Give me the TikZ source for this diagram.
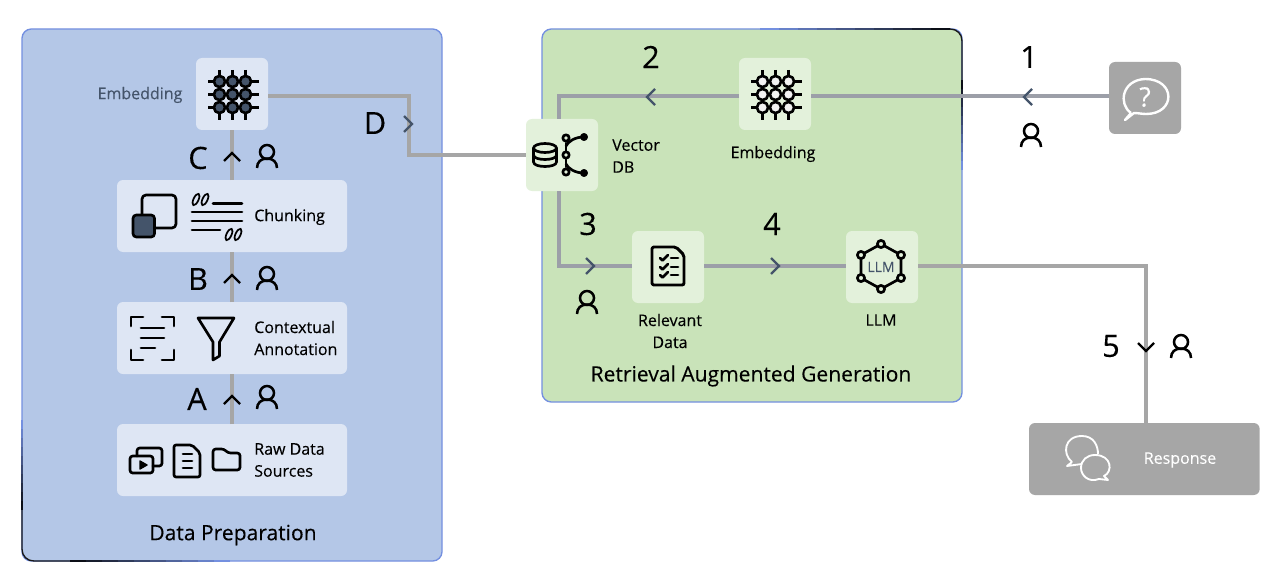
\documentclass[tikz,border=0pt]{standalone}
\usepackage{fontspec}
\setmainfont[FakeBold=0.25]{Open Sans}
\usetikzlibrary{calc}
\definecolor{bluepanel}{HTML}{B4C7E7}
\definecolor{blueedge}{HTML}{7490E0}
\definecolor{bluetile}{HTML}{DEE6F4}
\definecolor{greenpanel}{HTML}{C9E3B9}
\definecolor{greentile}{HTML}{E3F1DB}
\definecolor{slate}{HTML}{44546A}
\definecolor{wire}{HTML}{A6A6A6}
\definecolor{wiregreen}{HTML}{9C9FA8}
\definecolor{icongray}{HTML}{A6A6A6}
\tikzset{
  x=0.75pt,y=-0.75pt,
  panel/.style={anchor=north west,inner sep=0pt,outer sep=0pt,rounded corners=7pt},
  tile/.style={anchor=north west,inner sep=0pt,outer sep=0pt,rounded corners=4.5pt,draw=none},
  wireline/.style={draw=wire,line width=2.4pt},
  wiregr/.style={draw=wiregreen,line width=2.4pt},
  chev/.style={line width=1.8pt,line cap=butt,line join=miter},
  ico/.style={line width=2pt,line join=round,line cap=round,draw=black},
  lab/.style={font=\fontsize{12}{16.5}\selectfont,inner sep=0pt,align=left},
  biglab/.style={font=\fontsize{23}{26}\selectfont,inner sep=0pt},
  titlelab/.style={font=\fontsize{15.8}{18}\selectfont,inner sep=0pt},
  pics/person/.style={code={
    \draw[line width=1.9pt,line cap=butt] (0,-5) circle (7);
    \draw[line width=1.9pt,line cap=butt] (-10,11) .. controls (-10,5) and (-6,1.5) .. (0,1.5) .. controls (6,1.5) and (10,5) .. (10,11);
  }},
  pics/grid/.style={code={
    \foreach \u in {-13,0,13}{
      \draw[ico,line cap=butt] (-24.5,\u) -- (26,\u);
      \draw[ico,line cap=butt] (\u,-24.5) -- (\u,26);
    }
    \foreach \u in {-13,0,13}\foreach \v in {-13,0,13}
      \draw[ico,fill=#1] (\u,\v) circle (5.6);
  }},
  pics/chup/.style={code={\draw[chev,#1] (-8,4) -- (0,-4) -- (8,4);}},
  pics/chdown/.style={code={\draw[chev,#1] (-8,-4) -- (0,4) -- (8,-4);}},
  pics/chleft/.style={code={\draw[chev,#1] (4,-8) -- (-4,0) -- (4,8);}},
  pics/chright/.style={code={\draw[chev,#1] (-4,-8) -- (4,0) -- (-4,8);}},
}
\newcommand{\qmarks}[2]{%
  \foreach \d in {0,9}{
    \draw[line width=1.3pt,rotate around={-25:(#1+\d,#2)}] (#1+\d,#2) ellipse (2.5 and 6.2);
  }}
\begin{document}
\begin{tikzpicture}
\useasboundingbox (0,0) rectangle (1280,581);
\fill[white] (0,0) rectangle (1280,581);

% panels
\node[panel,fill=bluepanel,draw=blueedge,line width=1pt,minimum width=315pt,minimum height=399pt] (prep) at (22,29) {};
\node[panel,fill=greenpanel,draw=blueedge,line width=1pt,minimum width=315pt,minimum height=279.75pt] (rag) at (542,29) {};
% darkening of the panel outlines, fading into the blue
\foreach \i in {0,...,9}{
  \pgfmathsetmacro{\mixv}{100-10*\i}
  \draw[line width=1pt,blueedge!\mixv!black] ({760+19*\i},29) -- ({779+19*\i},29);
  \draw[line width=1pt,blueedge!\mixv!black] (962,{170-9*\i}) -- (962,{161-9*\i});
  \draw[line width=1pt,blueedge!\mixv!black] ({230-16*\i},561) -- ({214-16*\i},561);
  \draw[line width=1pt,blueedge!\mixv!black] (22,{420+9*\i}) -- (22,{429+9*\i});
}
\draw[line width=1pt,black!90] (950,29) .. controls (957,29) and (962,34) .. (962,41) -- (962,80);
\draw[line width=1pt,black!90] (70,561) -- (34,561) .. controls (27,561) and (22,556) .. (22,549) -- (22,510);

% tiles
\node[tile,fill=bluetile,minimum width=54pt,minimum height=54pt] (embA) at (196,58) {};
\node[tile,fill=bluetile,minimum width=172.5pt,minimum height=54pt] (chunk) at (117,180) {};
\node[tile,fill=bluetile,minimum width=172.5pt,minimum height=54pt] (ctx) at (117,302) {};
\node[tile,fill=bluetile,minimum width=172.5pt,minimum height=54pt] (raw) at (117,424) {};
\node[tile,fill=greentile,minimum width=54pt,minimum height=54pt] (vdb) at (526,119) {};
\node[tile,fill=greentile,minimum width=54pt,minimum height=54pt] (embB) at (739,58) {};
\node[tile,fill=greentile,minimum width=54pt,minimum height=54pt] (rel) at (632,231) {};
\node[tile,fill=greentile,minimum width=54pt,minimum height=54pt] (llm) at (846,231) {};
\node[tile,fill=icongray,minimum width=54pt,minimum height=54pt] (ask) at (1109,62) {};
\node[tile,fill=icongray,minimum width=173pt,minimum height=54pt] (resp) at (1029,423) {};

% connectors
\draw[wireline] (raw.north -| 232,0) -- (ctx.south -| 232,0);
\draw[wireline] (ctx.north -| 232,0) -- (chunk.south -| 232,0);
\draw[wireline] (chunk.north -| 232,0) -- (embA.south -| 232,0);
\coordinate (dtop) at (409,96);
\coordinate (dbot) at (409,155);
\draw[wireline,line join=miter] (embA.east |- dtop) -- (dtop) -- (dbot) -- (vdb.west |- dbot);
\draw[wiregr] (ask.west |- 0,96) -- (embB.east |- 0,96);
\coordinate (twotop) at (559,96);
\draw[wiregr] (embB.west |- twotop) -- (twotop) -- (twotop |- vdb.north);
\coordinate (threebot) at (559,266);
\draw[wiregr] (threebot |- vdb.south) -- (threebot) -- (rel.west |- threebot);
\draw[wiregr] (rel.east |- 0,266) -- (llm.west |- 0,266);
\coordinate (fivetop) at (1146,266);
\draw[wireline] (llm.east |- fivetop) -- (fivetop) -- (fivetop |- resp.north);

% chevrons
\pic at (232,157) {chup={black}};
\pic at (232,279) {chup={black}};
\pic at (232,400) {chup={black}};
\pic at (408,124) {chright={slate}};
\pic at (651,97) {chleft={slate}};
\pic at (1028,97) {chleft={slate}};
\pic at (590,266) {chright={slate}};
\pic at (775,266) {chright={slate}};
\pic at (1146,347) {chdown={black}};

% persons
\pic at (267,157) {person};
\pic at (267,279) {person};
\pic at (267,398) {person};
\pic at (1031,136) {person};
\pic at (587,303) {person};
\pic at (1181,347) {person};

% step letters
\node[biglab] (lD) at (375,123) {D};
\node[biglab] (lC) at (198,158) {C};
\node[biglab] (lB) at (198,279) {B};
\node[biglab] (lA) at (197,399) {A};
\node[biglab] (l2) at (651,57) {2};
\node[biglab] (l1) at (1029,57) {1};
\node[biglab] (l3) at (588,224) {3};
\node[biglab] (l4) at (772,224) {4};
\node[biglab] (l5) at (1111,346) {5};

% labels
\node[lab,text=slate] (tE1) at (140,95) {Embedding};
\node[lab,anchor=west] (tChunk) at (254,217) {Chunking};
\node[lab,anchor=west] (tCtx) at (254,338) {Contextual\\Annotation};
\node[lab,anchor=west] (tRaw) at (254,460) {Raw Data\\Sources};
\node[titlelab] (tPrep) at (233,535) {Data Preparation};
\node[lab,anchor=west] (tV) at (612,156) {Vector\\DB};
\node[lab] (tE2) at (773,154) {Embedding};
\node[lab,align=center] (tR) at (670,331) {Relevant\\Data};
\node[lab] (tL) at (881,320) {LLM};
\node[titlelab] (tRag) at (751,376) {Retrieval Augmented Generation};
\node[lab,text=white] (tResp) at (1180,460) {Response};

% grid icons
\pic at (232.5,94.5) {grid={slate}};
\pic at (775.5,94.5) {grid={white!95!black}};

% chunking icon
\draw[ico,rounded corners=3pt] (142,215) -- (142,195) -- (176,195) -- (176,228) -- (154,228);
\draw[ico,fill=slate,rounded corners=2.5pt] (133,215) rectangle (154.5,237);
\draw[ico] (213,203.5) -- (242,203.5);
\draw[ico] (192,212) -- (242,212);
\draw[ico] (192,221) -- (242,221);
\draw[ico] (192,230) -- (220,230);
\qmarks{196}{199.5}
\qmarks{229}{234.5}

% contextual icon
\begin{scope}[ico]
\draw (131,326) -- (131,317) -- (143,317);
\draw (162,317) -- (174,317) -- (174,326);
\draw (131,350) -- (131,360) -- (143,360);
\draw (162,360) -- (174,360) -- (174,350);
\draw (141,328) -- (164,328);
\draw (141,338) -- (164,338);
\draw (141,348) -- (155,348);
\draw (198,318) -- (234,318) -- (219.5,342) -- (219.5,356) -- (213,360) -- (213,342) -- cycle;
% raw data icons
\draw[rounded corners=2pt] (130,456) rectangle (153,473);
\draw[rounded corners=2pt] (137,456) -- (137,448) -- (162,448) -- (162,466) -- (153,466);
\draw[fill=black,line width=1pt] (140,461) -- (147,465) -- (140,469) -- cycle;
\draw[rounded corners=1.5pt] (174,445) -- (192,445) -- (200,453) -- (200,477) -- (174,477) -- cycle;
\draw (183,454) -- (192,454);
\draw (183,461) -- (192,461);
\draw (183,468) -- (192,468);
\draw[rounded corners=2pt] (213,470) -- (213,449) -- (224,449) -- (228,453) -- (240,453) -- (240,470) -- cycle;
% vector db
\draw (545,148) ellipse (11.5 and 4.5);
\draw (533.5,148) -- (533.5,162) .. controls (533.5,168) and (556.5,168) .. (556.5,162) -- (556.5,148);
\draw (533.5,155) .. controls (533.5,161) and (556.5,161) .. (556.5,155);
\draw (566,143) -- (566,167);
\draw (566,146) .. controls (568,142) and (574,137) .. (584,137);
\draw (566,164) .. controls (568,168) and (574,173) .. (584,173);
\foreach \p in {(566,138),(566,155),(566,172)} \draw[fill=greentile] \p circle (3.2);
\foreach \p in {(584,137),(584,173)} \draw[fill=black] \p circle (2.6);
% relevant doc
\draw[rounded corners=1.5pt,line width=2.2pt] (652,247) -- (676,247) -- (684,255) -- (684,285) -- (652,285) -- cycle;
\foreach \y in {258,267,275}{
  \draw (660,\y) -- (662.5,\y+2.5) -- (668,\y-3);
  \draw (671,\y) -- (678,\y);
}
% llm
\draw (881,244) -- (901,255) -- (901,278) -- (881,289) -- (861,278) -- (861,255) -- cycle;
\foreach \p in {(881,244),(901,255),(901,278),(881,289),(861,278),(861,255)}
  \draw[fill=greentile] \p circle (3.6);
\end{scope}
\node[inner sep=0pt,text=slate,font=\fontsize{10.5}{12}\selectfont] (tLLMi) at (881,267) {LLM};

% question bubble
\draw[white,line width=1.8pt,line join=round] (1131,113) .. controls (1118,104) and (1122,80) .. (1145,79) .. controls (1176,79) and (1176,114) .. (1146,114) .. controls (1142,114) and (1138,113) .. (1134,113) -- (1125,120) -- (1131,113);
\node[inner sep=0pt,text=white,font=\fontsize{20}{20}\selectfont] (tQ) at (1145,97) {?};

% response bubbles
\draw[white,line width=1.4pt,line join=round] (1072,462) .. controls (1062,454) and (1064,436) .. (1082,436) .. controls (1094,436) and (1098,446) .. (1098,454);
\draw[white,line width=1.4pt,line join=round] (1072,462) -- (1067,466) -- (1082,464);
\draw[white,line width=1.4pt,line join=round] (1095,455) .. controls (1112,455) and (1113,472) .. (1104,476) -- (1108,480) -- (1099,479) .. controls (1088,483) and (1081,475) .. (1081,468) .. controls (1081,460) and (1087,455) .. (1095,455) -- cycle;
\end{tikzpicture}
\end{document}
